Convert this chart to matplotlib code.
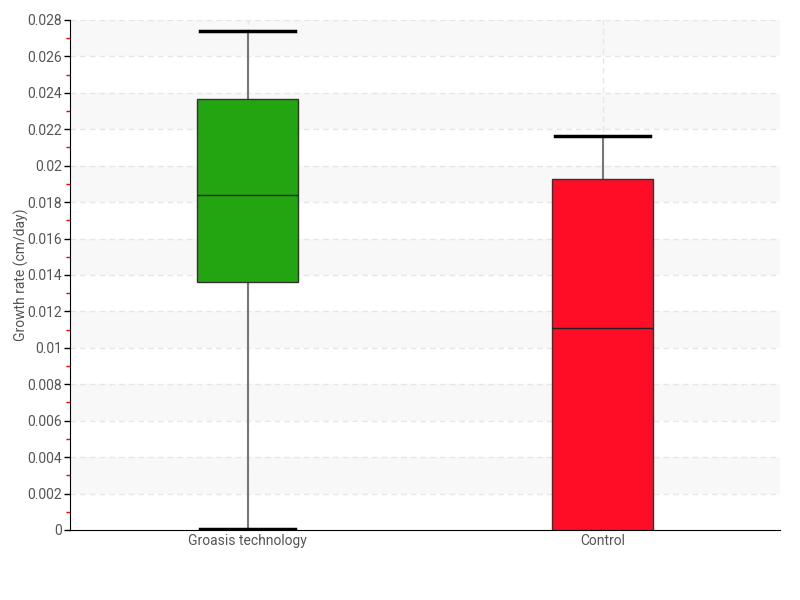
import matplotlib
matplotlib.use("Agg")
import matplotlib.pyplot as plt
from matplotlib.ticker import MultipleLocator, FuncFormatter

categories = ["Groasis technology", "Control"]
whislo = [0.00005, 0.0]
q1 = [0.01362, 0.0]
med = [0.01839, 0.01109]
q3 = [0.02366, 0.01927]
whishi = [0.0274, 0.02163]
colors = ["#22a511", "#ff0d27"]

plt.rcParams['font.family'] = ['Roboto', 'DejaVu Sans']

fig = plt.figure(figsize=(8, 6), dpi=100)
ax = fig.add_axes([0.0875, 0.1167, 0.8875, 0.85])

ymax = 0.028
step = 0.002
k = 0
y = 0.0
while y < ymax - 1e-9:
    if k % 2 == 1:
        ax.axhspan(y, y + step, color="#f8f8f8", zorder=0, lw=0)
    y += step
    k += 1
for i in range(1, 15):
    ax.axhline(i * step, color="#e6e6e6", lw=1, ls=(0, (4, 3)), zorder=0.5)
for i in range(len(categories)):
    ax.axvline(i, color="#e6e6e6", lw=1, ls=(0, (4, 3)), zorder=0.5)

stats = []
for i, c in enumerate(categories):
    stats.append(dict(label=c, whislo=whislo[i], q1=q1[i], med=med[i], q3=q3[i],
                      whishi=whishi[i], fliers=[]))
bp = ax.bxp(stats, positions=range(len(categories)), widths=0.282, patch_artist=True,
            showfliers=False,
            boxprops=dict(edgecolor="#333333", linewidth=1),
            medianprops=dict(color="#222222", linewidth=1),
            whiskerprops=dict(color="#777777", linewidth=1.5),
            capprops=dict(color="black", linewidth=2.5), capwidths=0.27)
for patch, col in zip(bp['boxes'], colors):
    patch.set_facecolor(col)
    patch.set_zorder(3)
for m in bp['medians']:
    m.set_zorder(4)

ax.set_xlim(-0.5, 1.5)
ax.set_ylim(0, ymax)
ax.yaxis.set_major_locator(MultipleLocator(0.002))
ax.yaxis.set_minor_locator(MultipleLocator(0.001))
ax.yaxis.set_major_formatter(FuncFormatter(lambda v, p: ("%.3f" % v).rstrip('0').rstrip('.') if v != 0 else "0"))
ax.tick_params(axis='y', which='major', length=4, width=1, color='black', labelsize=10, labelcolor='#555555', pad=2)
ax.tick_params(axis='y', which='minor', length=3, width=1, color='red')
ax.tick_params(axis='x', length=0, labelsize=10, labelcolor='#555555', pad=3)
for s in ['top', 'right']:
    ax.spines[s].set_visible(False)
ax.spines['left'].set_color('black')
ax.spines['bottom'].set_color('black')
ax.set_ylabel("Growth rate (cm/day)", fontsize=10, color='#555555')
ax.yaxis.set_label_coords(-0.058, 0.5)

fig.savefig("out.png", dpi=100)
